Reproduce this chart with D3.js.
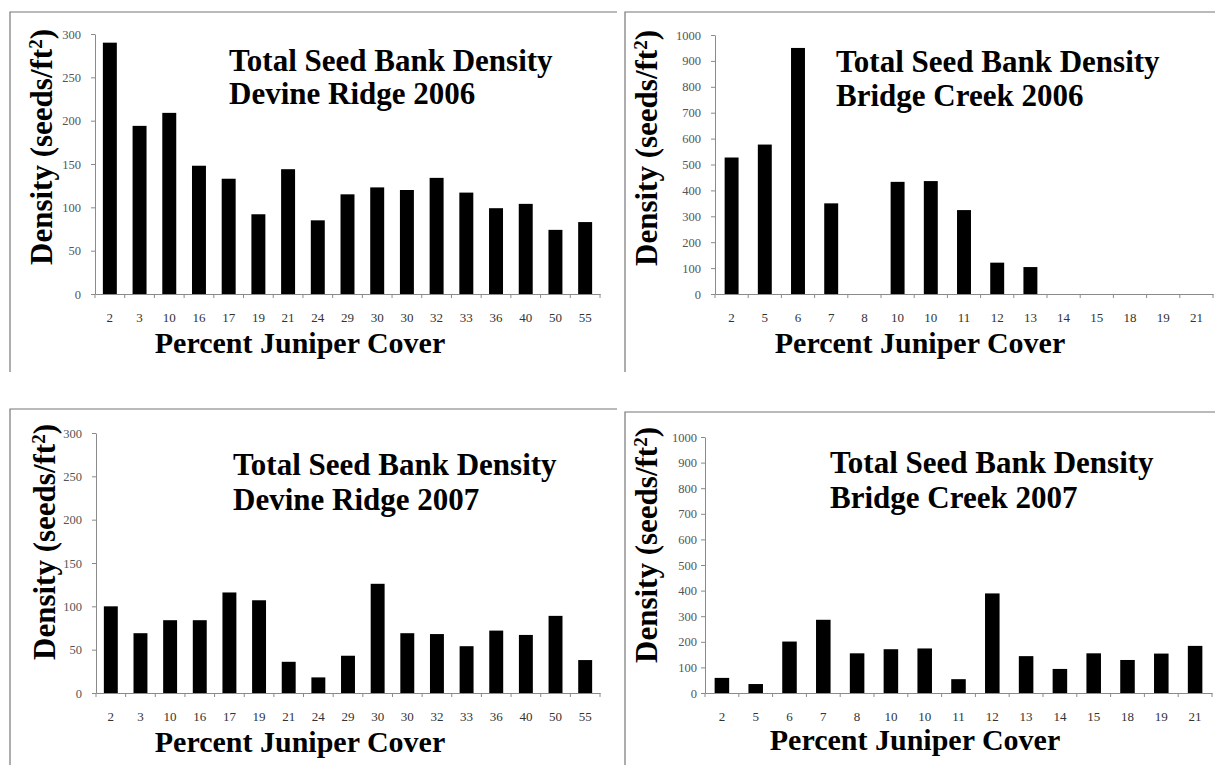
<!DOCTYPE html>
<html>
<head>
<meta charset="utf-8">
<script src="https://cdn.jsdelivr.net/npm/d3@7"></script>
<style>
  html, body { margin: 0; padding: 0; background: #fff; }
  svg { display: block; }
  text { font-family: "Liberation Serif", "Times New Roman", serif; }
</style>
</head>
<body>
<svg id="chart" width="1215" height="765"></svg>
<script>
// Percent juniper cover of each plot (x categories)
const devineCover = ["2", "3", "10", "16", "17", "19", "21", "24", "29", "30", "30", "32", "33", "36", "40", "50", "55"];
const bridgeCover = ["2", "5", "6", "7", "8", "10", "10", "11", "12", "13", "14", "15", "18", "19", "21"];

// Total seed bank density, seeds per square foot
const devine2006 = [290, 194, 209, 148, 133, 92, 144, 85, 115, 123, 120, 134, 117, 99, 104, 74, 83];
const bridge2006 = [527, 577, 950, 350, 0, 433, 436, 324, 121, 104, 0, 0, 0, 0, 0];
const devine2007 = [100, 69, 84, 84, 116, 107, 36, 18, 43, 126, 69, 68, 54, 72, 67, 89, 38];
const bridge2007 = [59, 35, 201, 286, 155, 171, 174, 54, 389, 144, 94, 155, 129, 154, 184];

// y-axis ticks
const devineTicks = [0, 50, 100, 150, 200, 250, 300];
const bridgeTicks = [0, 100, 200, 300, 400, 500, 600, 700, 800, 900, 1000];

const panels = [
  { cats: devineCover, vals: devine2006, ticks: devineTicks, yMax: 300,
    site: "Devine Ridge 2006",
    frame: { x: 10, y: 12, right: 617, bottom: 372 },
    plot: { x0: 95, x1: 600, yTop: 34, yBase: 294 }, inner: 0.53, tickPad: 10,
    title: { x: 229, y1: 71, y2: 104 }, ytitle: { x: 52, y: 147 }, xtitle: { x: 300, y: 353 } },
  { cats: bridgeCover, vals: bridge2006, ticks: bridgeTicks, yMax: 1000,
    site: "Bridge Creek 2006",
    frame: { x: 625, y: 12, right: 1215, bottom: 372 },
    plot: { x0: 715, x1: 1213, yTop: 35, yBase: 294 }, inner: 0.58, tickPad: 10,
    title: { x: 836, y1: 72, y2: 106 }, ytitle: { x: 657, y: 148 }, xtitle: { x: 920, y: 353 } },
  { cats: devineCover, vals: devine2007, ticks: devineTicks, yMax: 300,
    site: "Devine Ridge 2007",
    frame: { x: 10, y: 409, right: 617, bottom: 765 },
    plot: { x0: 96, x1: 600, yTop: 433, yBase: 693 }, inner: 0.53, tickPad: 10,
    title: { x: 233, y1: 475, y2: 510 }, ytitle: { x: 55, y: 542 }, xtitle: { x: 300, y: 752 } },
  { cats: bridgeCover, vals: bridge2007, ticks: bridgeTicks, yMax: 1000,
    site: "Bridge Creek 2007",
    frame: { x: 625, y: 412, right: 1215, bottom: 765 },
    plot: { x0: 705, x1: 1212, yTop: 437, yBase: 693 }, inner: 0.57, tickPad: 4,
    title: { x: 830, y1: 473, y2: 508 }, ytitle: { x: 657, y: 545 }, xtitle: { x: 915, y: 750 } }
];

const svg = d3.select("#chart");
const axisColor = "#8a8a8a";
const serif = "'Liberation Serif', 'Times New Roman', serif";

panels.forEach(p => {
  const g = svg.append("g");

  // open frame: top and left edges only
  g.append("path")
    .attr("d", `M${p.frame.x},${p.frame.bottom}V${p.frame.y}H${p.frame.right}`)
    .attr("fill", "none")
    .attr("stroke", "#777")
    .attr("stroke-width", 1.2);

  const idx = p.cats.map((_, i) => i);
  const x = d3.scaleBand()
    .domain(idx)
    .range([p.plot.x0, p.plot.x1])
    .paddingInner(p.inner)
    .paddingOuter(p.inner / 2);
  const y = d3.scaleLinear()
    .domain([0, p.yMax])
    .range([p.plot.yBase, p.plot.yTop]);

  // bars
  g.append("g").selectAll("rect")
    .data(p.vals)
    .join("rect")
    .attr("x", (d, i) => x(i))
    .attr("width", x.bandwidth())
    .attr("y", d => y(d))
    .attr("height", d => y(0) - y(d))
    .attr("fill", "#000");

  // y axis
  const yAxis = g.append("g")
    .attr("transform", `translate(${p.plot.x0},0)`)
    .attr("font-family", serif)
    .call(d3.axisLeft(y).tickValues(p.ticks).tickFormat(d3.format("d"))
      .tickSize(4).tickPadding(p.tickPad).tickSizeOuter(0));
  yAxis.attr("font-family", serif);
  yAxis.select(".domain").attr("stroke", axisColor);
  yAxis.selectAll(".tick line").attr("stroke", axisColor);
  yAxis.selectAll(".tick text")
    .attr("fill", "#555")
    .style("font-size", "12.5px")
    .style("font-family", serif);

  // x axis: labels at band centres, ticks at slot boundaries
  const xAxis = g.append("g")
    .attr("transform", `translate(0,${p.plot.yBase})`)
    .call(d3.axisBottom(x).tickFormat(i => p.cats[i]).tickSize(0).tickPadding(19));
  xAxis.attr("font-family", serif);
  xAxis.select(".domain").attr("stroke", axisColor);
  xAxis.selectAll(".tick text")
    .attr("fill", "#333")
    .style("font-size", "13px")
    .style("font-family", serif);

  const bounds = d3.range(p.cats.length + 1).map(i => x.range()[0] + i * x.step());
  g.append("g").selectAll("line")
    .data(bounds)
    .join("line")
    .attr("x1", d => d).attr("x2", d => d)
    .attr("y1", p.plot.yBase).attr("y2", p.plot.yBase + 4)
    .attr("stroke", axisColor);

  // chart title
  const t = g.append("text")
    .attr("x", p.title.x)
    .attr("font-size", 31)
    .attr("font-weight", "bold")
    .attr("fill", "#000");
  t.append("tspan").attr("x", p.title.x).attr("y", p.title.y1).text("Total Seed Bank Density");
  t.append("tspan").attr("x", p.title.x).attr("y", p.title.y2).text(p.site);

  // y title
  const yt = g.append("text")
    .attr("transform", `translate(${p.ytitle.x},${p.ytitle.y}) rotate(-90)`)
    .attr("text-anchor", "middle")
    .attr("font-size", 31)
    .attr("font-weight", "bold")
    .attr("fill", "#000");
  yt.append("tspan").text("Density (seeds/ft");
  yt.append("tspan").attr("font-size", 19).attr("baseline-shift", "super").text("2");
  yt.append("tspan").text(")");

  // x title
  g.append("text")
    .attr("x", p.xtitle.x)
    .attr("y", p.xtitle.y)
    .attr("text-anchor", "middle")
    .attr("font-size", 30)
    .attr("font-weight", "bold")
    .attr("fill", "#000")
    .text("Percent Juniper Cover");
});
</script>
</body>
</html>
